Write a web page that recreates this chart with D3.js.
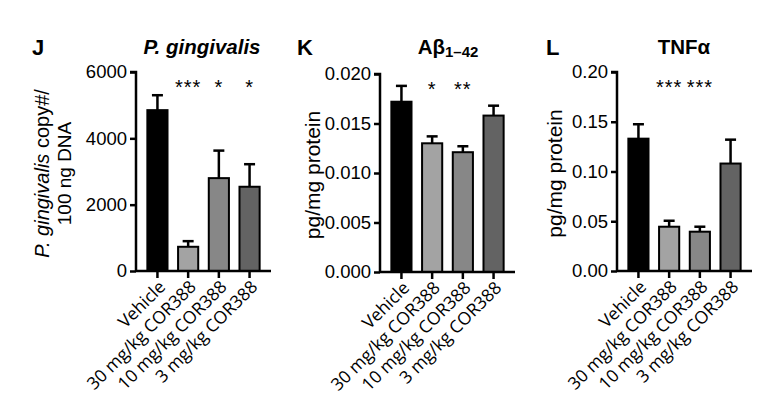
<!DOCTYPE html>
<html><head><meta charset="utf-8">
<script src="https://cdn.jsdelivr.net/npm/d3@7"></script>
<style>body{margin:0;background:#fff;}svg{display:block;}</style>
</head><body>
<script>
const categories = ["Vehicle", "30 mg/kg COR388", "10 mg/kg COR388", "3 mg/kg COR388"];
const barColors = ["#000000", "#a3a3a3", "#878787", "#636363"];

const pgValues = [4850, 730, 2800, 2540];
const pgErrors = [450, 170, 830, 680];
const pgTicks = [0, 2000, 4000, 6000];
const pgStars = ["", "***", "*", "*"];

const abValues = [0.0172, 0.0130, 0.0121, 0.0158];
const abErrors = [0.0016, 0.0007, 0.0006, 0.0010];
const abTicks = [0, 0.005, 0.010, 0.015, 0.020];
const abStars = ["", "*", "**", ""];

const tnfValues = [0.133, 0.0445, 0.0395, 0.108];
const tnfErrors = [0.0145, 0.006, 0.005, 0.024];
const tnfTicks = [0, 0.05, 0.10, 0.15, 0.20];
const tnfStars = ["", "***", "***", ""];

const W = 773, H = 415;
const svg = d3.select("body").append("svg").attr("width", W).attr("height", H);

const panels = [
  {letter: "J", values: pgValues, errors: pgErrors, ticks: pgTicks, stars: pgStars, max: 6000, fmt: d3.format("d"),
   ax: 136, y0: 271, yTop: 72, letterX: 32, titleX: 202, ylabX: 49, ylab2X: 71, title: "pg"},
  {letter: "K", values: abValues, errors: abErrors, ticks: abTicks, stars: abStars, max: 0.020, fmt: d3.format(".3f"),
   ax: 380, y0: 272, yTop: 74, letterX: 297, titleX: 448, ylabX: 320, title: "ab"},
  {letter: "L", values: tnfValues, errors: tnfErrors, ticks: tnfTicks, stars: tnfStars, max: 0.20, fmt: d3.format(".2f"),
   ax: 617, y0: 271, yTop: 72, letterX: 546, titleX: 684, ylabX: 562, title: "tnf"}
];

const FONT = "'Liberation Sans', Arial, sans-serif";

panels.forEach(p => {
  const g = svg.append("g");
  const x = d3.scaleBand().domain(categories).range([p.ax, p.ax + 135]).paddingInner(0.344).paddingOuter(0.37);
  const y = d3.scaleLinear().domain([0, p.max]).range([p.y0, p.yTop]);

  // bars
  g.selectAll("rect.bar").data(p.values).join("rect")
    .attr("x", (d, i) => x(categories[i]))
    .attr("y", d => y(d))
    .attr("width", x.bandwidth())
    .attr("height", d => p.y0 - y(d))
    .attr("fill", (d, i) => barColors[i])
    .attr("stroke", "#000").attr("stroke-width", 2);

  // error bars (upper only)
  p.values.forEach((v, i) => {
    const cx = x(categories[i]) + x.bandwidth() / 2;
    g.append("line").attr("x1", cx).attr("x2", cx).attr("y1", y(v)).attr("y2", y(v + p.errors[i]))
      .attr("stroke", "#000").attr("stroke-width", 2.5);
    g.append("line").attr("x1", cx - 5.5).attr("x2", cx + 5.5).attr("y1", y(v + p.errors[i])).attr("y2", y(v + p.errors[i]))
      .attr("stroke", "#000").attr("stroke-width", 2.5);
    if (p.stars[i]) {
      g.append("text").attr("x", cx).attr("y", p.yTop + 22).attr("text-anchor", "middle")
        .attr("font-family", FONT).attr("font-size", 20).attr("letter-spacing", "1px").text(p.stars[i]);
    }
  });

  // y axis
  const yAxis = d3.axisLeft(y).tickValues(p.ticks).tickFormat(p.fmt).tickSize(6).tickPadding(3);
  const ya = g.append("g").attr("transform", `translate(${p.ax},0)`).call(yAxis);
  ya.select(".domain").attr("stroke-width", 2.5).attr("d", `M-6,${p.yTop}H0V${p.y0}`);
  ya.selectAll(".tick line").attr("stroke-width", 2.5);
  ya.selectAll(".tick text").attr("font-family", FONT).attr("font-size", 18.5).attr("fill", "#000");

  // x axis
  const xAxis = d3.axisBottom(x).tickSize(7).tickFormat("");
  const xa = g.append("g").attr("transform", `translate(0,${p.y0})`).call(xAxis);
  xa.select(".domain").attr("stroke-width", 2.5).attr("d", `M${p.ax},0H${p.ax + 135}`);
  xa.selectAll(".tick line").attr("stroke-width", 2.5);
  categories.forEach(c => {
    const cx = x(c) + x.bandwidth() / 2;
    g.append("text").attr("transform", `translate(${cx + 9},${p.y0 + 17}) rotate(-45)`)
      .attr("text-anchor", "end").attr("font-family", "'Open Sans', sans-serif").attr("font-size", 17.5)
      .text(c);
  });

  // panel letter
  g.append("text").attr("x", p.letterX).attr("y", 55).attr("font-family", FONT).attr("font-weight", "bold")
    .attr("font-size", 22).text(p.letter);

  // title
  const t = g.append("text").attr("x", p.titleX).attr("y", 54).attr("text-anchor", "middle")
    .attr("font-family", FONT).attr("font-weight", "bold").attr("font-size", 20.5);
  if (p.title === "pg") t.attr("font-style", "italic").text("P. gingivalis");
  else if (p.title === "ab") { t.append("tspan").text("Aβ"); t.append("tspan").attr("font-size", 15).attr("dy", 3).text("1–42"); }
  else t.text("TNFα");

  // y label
  const cy = (p.yTop + p.y0) / 2 + 2;
  if (p.title === "pg") {
    const l1 = g.append("text").attr("transform", `translate(${p.ylabX},${cy}) rotate(-90)`).attr("text-anchor", "middle")
      .attr("font-family", FONT).attr("font-size", 20);
    l1.append("tspan").attr("font-style", "italic").text("P. gingivalis");
    l1.append("tspan").text(" copy#/");
    g.append("text").attr("transform", `translate(${p.ylab2X},${cy}) rotate(-90)`).attr("text-anchor", "middle")
      .attr("font-family", FONT).attr("font-size", 19).text("100 ng DNA");
  } else {
    g.append("text").attr("transform", `translate(${p.ylabX},${cy}) rotate(-90)`).attr("text-anchor", "middle")
      .attr("font-family", FONT).attr("font-size", 21).text("pg/mg protein");
  }
});
</script>
</body></html>
